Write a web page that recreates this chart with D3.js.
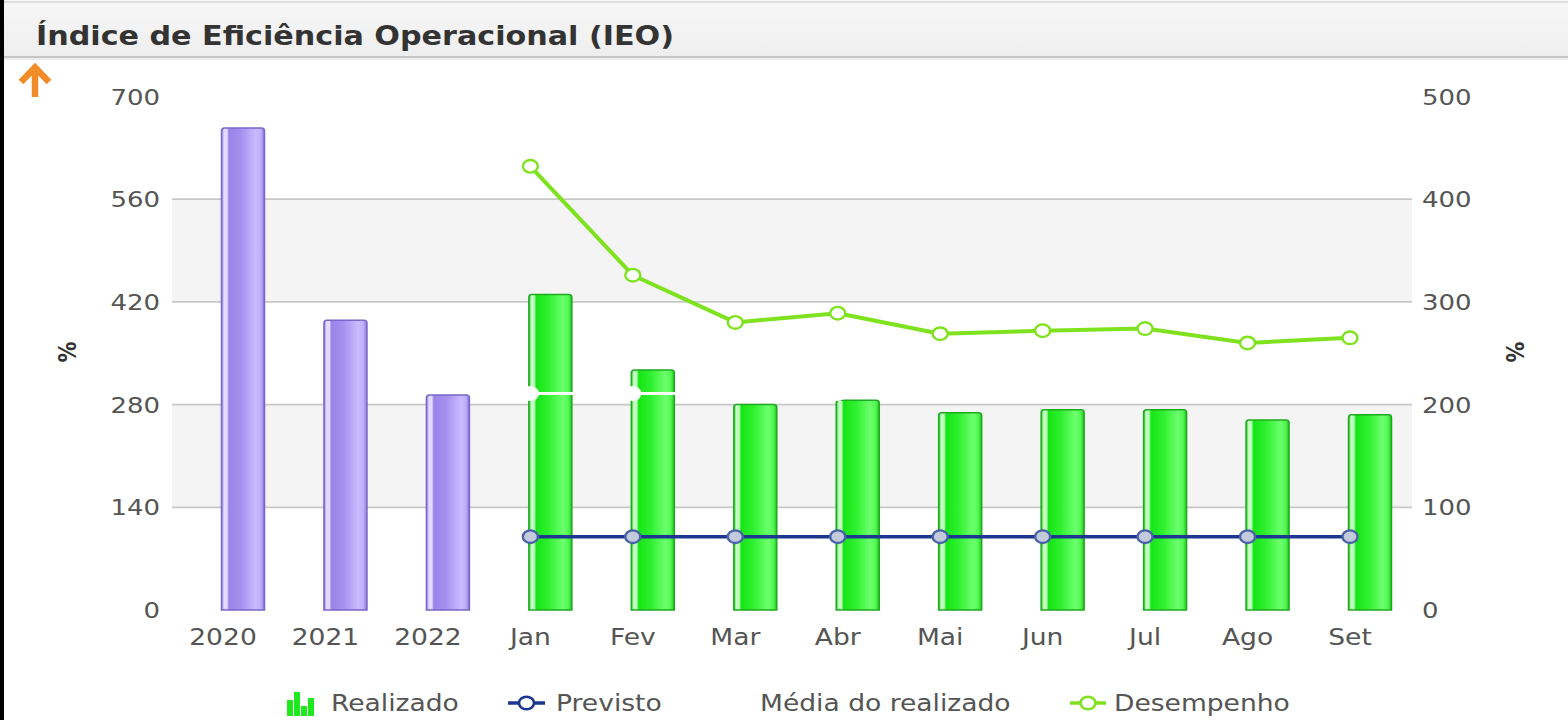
<!DOCTYPE html>
<html>
<head>
<meta charset="utf-8">
<script src="https://cdn.jsdelivr.net/npm/d3@7"></script>
<style>
  html, body { margin: 0; padding: 0; background: #ffffff; }
  svg { display: block; }
</style>
</head>
<body>
<svg id="chart" width="1568" height="720"></svg>
<script>
// ---- Data -------------------------------------------------------------
const yearCategories  = ["2020", "2021", "2022"];
const monthCategories = ["Jan", "Fev", "Mar", "Abr", "Mai", "Jun", "Jul", "Ago", "Set"];
const realizadoAnual  = [657, 395, 293];
const realizadoMensal = [430, 327, 280, 286, 269, 273, 273, 259, 266];
const previsto        = [100, 100, 100, 100, 100, 100, 100, 100, 100];
const mediaRealizado  = [295, 295, 295, 295, 295, 295, 295, 295, 295];
const desempenho      = [432, 326, 280, 289, 269, 272, 274, 260, 265];
const leftTicks  = [0, 140, 280, 420, 560, 700];
const rightTicks = [0, 100, 200, 300, 400, 500];
const legendLabels = ["Realizado", "Previsto", "Média do realizado", "Desempenho"];
const chartTitle = "Índice de Eficiência Operacional (IEO)";

// ---- Layout -----------------------------------------------------------
const W = 1568, H = 720;
const plotLeft = 172, plotRight = 1412, plotTop = 96.5, plotBottom = 610;
const SX = 1.18;               // horizontal stretch applied to text
const FONT = "'DejaVu Sans', Verdana, sans-serif";
const TEXT = "#555555";

const svg = d3.select("#chart");
const defs = svg.append("defs");

const categories = yearCategories.concat(monthCategories);
const x = d3.scalePoint().domain(categories).range([223, 1350]);
const yL = d3.scaleLinear().domain([0, 700]).range([plotBottom, plotTop]);
const yR = d3.scaleLinear().domain([0, 500]).range([plotBottom, plotTop]);

function txt(parent, px, py, str, o = {}) {
  return parent.append("text")
    .attr("transform", `translate(${px},${py}) scale(${SX},1)` + (o.rotate ? ` rotate(${o.rotate})` : ""))
    .attr("text-anchor", o.anchor || "start")
    .attr("font-family", FONT)
    .attr("font-size", o.size || 22)
    .attr("font-weight", o.weight || "normal")
    .attr("fill", o.fill || TEXT)
    .text(str);
}

// ---- Frame & header ---------------------------------------------------
const hdrGrad = defs.append("linearGradient").attr("id", "hdr").attr("x1", 0).attr("y1", 0).attr("x2", 0).attr("y2", 1);
hdrGrad.append("stop").attr("offset", "0%").attr("stop-color", "#f7f7f7");
hdrGrad.append("stop").attr("offset", "100%").attr("stop-color", "#eeeeee");
svg.append("rect").attr("x", 0).attr("y", 0).attr("width", W).attr("height", 57).attr("fill", "url(#hdr)");
svg.append("line").attr("x1", 0).attr("x2", W).attr("y1", 2).attr("y2", 2).attr("stroke", "#dddddd").attr("stroke-width", 2);
svg.append("line").attr("x1", 0).attr("x2", W).attr("y1", 57).attr("y2", 57).attr("stroke", "#c6c6c6").attr("stroke-width", 2);
svg.append("line").attr("x1", 0).attr("x2", W).attr("y1", 59).attr("y2", 59).attr("stroke", "#ececec").attr("stroke-width", 2);
svg.append("rect").attr("x", 0).attr("y", 0).attr("width", 4).attr("height", H).attr("fill", "#000");

svg.append("text")
  .attr("x", 36).attr("y", 45)
  .attr("font-family", "'DejaVu Sans Condensed', 'DejaVu Sans', sans-serif")
  .attr("font-stretch", "condensed")
  .attr("font-size", 27).attr("font-weight", "bold")
  .attr("fill", "#333333")
  .attr("textLength", 638).attr("lengthAdjust", "spacingAndGlyphs")
  .text(chartTitle);

// orange arrow
svg.append("path")
  .attr("d", "M35,97 V70 M21,82 L35,67.5 L49,82")
  .attr("fill", "none").attr("stroke", "#f28c28").attr("stroke-width", 6.5)
  .attr("stroke-linejoin", "miter").attr("stroke-linecap", "butt");

// ---- Plot bands & grid ------------------------------------------------
const bandPairs = [[140, 280], [420, 560]];
svg.append("g").selectAll("rect").data(bandPairs).join("rect")
  .attr("x", plotLeft).attr("width", plotRight - plotLeft)
  .attr("y", d => yL(d[1])).attr("height", d => yL(d[0]) - yL(d[1]))
  .attr("fill", "#f4f4f4");

svg.append("g").selectAll("line").data(leftTicks.filter(v => v > 0 && v < 700)).join("line")
  .attr("x1", plotLeft).attr("x2", plotRight)
  .attr("y1", d => yL(d)).attr("y2", d => yL(d))
  .attr("stroke", "#c8c8c8").attr("stroke-width", 1.8);

// ---- Axes labels ------------------------------------------------------
const axL = svg.append("g");
leftTicks.forEach(v => txt(axL, 160, yL(v) + 8, String(v), { anchor: "end", size: 22 }));
const axR = svg.append("g");
rightTicks.forEach(v => txt(axR, 1422, yR(v) + 8, String(v), { anchor: "start", size: 22 }));
const axX = svg.append("g");
categories.forEach(c => txt(axX, x(c), 645, c, { anchor: "middle", size: 22.5 }));

txt(svg, 76, 352, "%", { anchor: "middle", size: 21, weight: "bold", fill: "#333", rotate: -90 });
txt(svg, 1506, 352, "%", { anchor: "middle", size: 21, weight: "bold", fill: "#333", rotate: 90 });

// ---- Bar gradients ----------------------------------------------------
function barGradient(id, stops) {
  const g = defs.append("linearGradient").attr("id", id).attr("x1", 0).attr("y1", 0).attr("x2", 1).attr("y2", 0);
  stops.forEach(s => g.append("stop").attr("offset", s[0]).attr("stop-color", s[1]));
}
barGradient("gPurple", [["0%", "#8d78dc"], ["6%", "#e2dbff"], ["13%", "#e2dbff"], ["17%", "#9a83e8"], ["45%", "#a590ef"], ["80%", "#c8bbff"], ["92%", "#bcaefa"], ["100%", "#8a75d6"]]);
barGradient("gGreen", [["0%", "#22c422"], ["6%", "#c8ffc8"], ["13%", "#b8ffb8"], ["17%", "#16e516"], ["45%", "#2ef02e"], ["80%", "#6cff6c"], ["92%", "#52f852"], ["100%", "#22c422"]]);

const barW = 43, barOff = -1.5;
function barPath(cx, yTop) {
  const x0 = cx + barOff, x1 = x0 + barW, r = 3, yb = plotBottom;
  return `M${x0},${yb} V${yTop + r} Q${x0},${yTop} ${x0 + r},${yTop} H${x1 - r} Q${x1},${yTop} ${x1},${yTop + r} V${yb} Z`;
}
svg.append("g").selectAll("path").data(yearCategories.map((c, i) => ({ c, v: realizadoAnual[i] }))).join("path")
  .attr("d", d => barPath(x(d.c), yL(d.v)))
  .attr("fill", "url(#gPurple)").attr("stroke", "#7a65c8").attr("stroke-width", 1.5);
svg.append("g").selectAll("path").data(monthCategories.map((c, i) => ({ c, v: realizadoMensal[i] }))).join("path")
  .attr("d", d => barPath(x(d.c), yL(d.v)))
  .attr("fill", "url(#gGreen)").attr("stroke", "#1eaa1e").attr("stroke-width", 1.5);

// ---- Lines ------------------------------------------------------------
function lineSeries(values, scale, color, width, markerFill, markerStroke) {
  const pts = monthCategories.map((c, i) => [x(c), scale(values[i])]);
  const g = svg.append("g");
  g.append("path").attr("d", d3.line()(pts)).attr("fill", "none")
    .attr("stroke", color).attr("stroke-width", width).attr("stroke-linejoin", "round");
  g.selectAll("ellipse").data(pts).join("ellipse")
    .attr("cx", d => d[0]).attr("cy", d => d[1]).attr("rx", 7.5).attr("ry", 6.3)
    .attr("fill", markerFill).attr("stroke", markerStroke).attr("stroke-width", 2.4);
}
lineSeries(mediaRealizado, yL, "#ffffff", 3, "#ffffff", "#ffffff");
lineSeries(previsto, yL, "#1d3690", 3.5, "#c3cadb", "#4a63a8");
lineSeries(desempenho, yR, "#7ee31e", 4, "#ffffff", "#7ee31e");

// ---- Legend -----------------------------------------------------------
const lg = svg.append("g");
const ly = 703;
// bar-chart icon
const iconBars = [[287, 16], [294, 24], [301, 10], [308, 18]];
iconBars.forEach(b => lg.append("rect").attr("x", b[0]).attr("y", 716 - b[1]).attr("width", 6).attr("height", b[1]).attr("fill", "#1ee81e"));
txt(lg, 331, ly + 8, legendLabels[0], { size: 22.5 });

lg.append("line").attr("x1", 508).attr("x2", 545).attr("y1", ly).attr("y2", ly).attr("stroke", "#1d3690").attr("stroke-width", 3.5);
lg.append("ellipse").attr("cx", 526.5).attr("cy", ly).attr("rx", 7.5).attr("ry", 6.3).attr("fill", "#ffffff").attr("stroke", "#1d3690").attr("stroke-width", 2.6);
txt(lg, 556, ly + 8, legendLabels[1], { size: 22.5 });

lg.append("line").attr("x1", 722).attr("x2", 750).attr("y1", ly).attr("y2", ly).attr("stroke", "#ffffff").attr("stroke-width", 3);
txt(lg, 760, ly + 8, legendLabels[2], { size: 22.5 });

lg.append("line").attr("x1", 1070).attr("x2", 1106).attr("y1", ly).attr("y2", ly).attr("stroke", "#7ee31e").attr("stroke-width", 3.5);
lg.append("ellipse").attr("cx", 1088).attr("cy", ly).attr("rx", 7.5).attr("ry", 6.3).attr("fill", "#ffffff").attr("stroke", "#7ee31e").attr("stroke-width", 2.6);
txt(lg, 1114, ly + 8, legendLabels[3], { size: 22.5 });
</script>
</body>
</html>
